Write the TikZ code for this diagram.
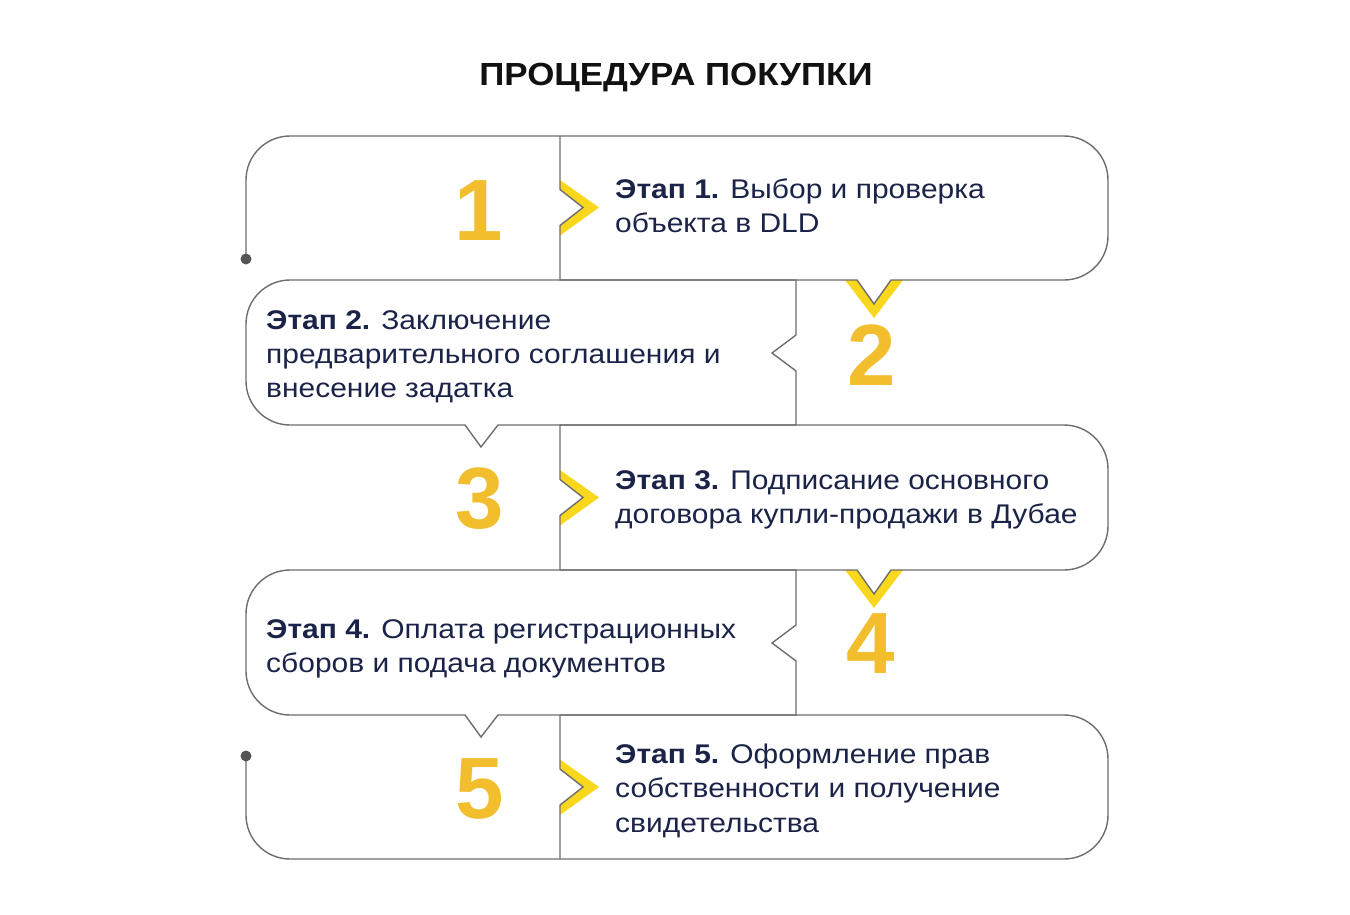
\documentclass[tikz,border=0pt]{standalone}
\usepackage{fontspec}
\setmainfont[FakeStretch=1.11]{Liberation Sans}
\newfontfamily\titlefont[FakeStretch=1.09]{Liberation Sans}
\newfontfamily\numfont{Liberation Sans}
\definecolor{lineg}{HTML}{6E6E6E}
\definecolor{dotc}{HTML}{555555}
\definecolor{navy}{HTML}{1B2448}
\definecolor{numy}{HTML}{F2BE2E}
\definecolor{chevy}{HTML}{F9D71C}
\definecolor{titlec}{HTML}{111111}
\tikzset{
  outline/.style={draw=lineg, line width=1.4pt, line join=miter},
  stagetxt/.style={anchor=base west, inner sep=0pt, text=navy, font=\fontsize{27}{34}\selectfont},
  bignum/.style={anchor=base, inner sep=0pt, text=numy, font=\numfont\fontsize{87}{87}\selectfont\bfseries},
  chev/.style={fill=chevy, draw=none},
  enddot/.style={fill=dotc}
}
\begin{document}
\begin{tikzpicture}[x=1pt,y=-1pt]
\useasboundingbox (0,0) rectangle (1350,915);
\fill[white] (0,0) rectangle (1350,915);

% title
\node[anchor=base, inner sep=0pt, text=titlec, font=\titlefont\fontsize{32}{34}\selectfont\bfseries] (title) at (676,86) {ПРОЦЕДУРА ПОКУПКИ};

% yellow chevrons (left edge, pointing right)
\foreach \yc in {207.5,497.5,787} {
  \fill[chev] (560,\yc-27.5) -- (599,\yc) -- (560,\yc+28) -- (560,\yc+18) -- (583,\yc) -- (560,\yc-18) -- cycle;
}
% yellow chevrons (bottom edge, pointing down)
\foreach \yb in {280,570} {
  \fill[chev] (845,\yb) -- (874,\yb+38) -- (903,\yb) -- (891,\yb) -- (874,\yb+24) -- (857,\yb) -- cycle;
}

% row 1: outline from the start dot and bubble 1
\draw[outline] (246,259) -- (246,180) .. controls (246,155.7) and (265.7,136) .. (290,136)
  -- (1064,136) .. controls (1088.3,136) and (1108,155.7) .. (1108,180)
  -- (1108,236) .. controls (1108,260.3) and (1088.3,280) .. (1064,280)
  -- (891,280) -- (874,304) -- (857,280) -- (560,280)
  -- (560,225.5) -- (583,207.5) -- (560,189.5) -- (560,136);

% row 2 bubble
\draw[outline] (796,280) -- (290,280) .. controls (265.7,280) and (246,299.7) .. (246,324)
  -- (246,381) .. controls (246,405.3) and (265.7,425) .. (290,425)
  -- (465,425) -- (481,447) -- (498,425) -- (796,425)
  -- (796,371) -- (772,353) -- (796,335) -- cycle;

% row 3 bubble
\draw[outline] (560,425) -- (1064,425) .. controls (1088.3,425) and (1108,444.7) .. (1108,469)
  -- (1108,526) .. controls (1108,550.3) and (1088.3,570) .. (1064,570)
  -- (891,570) -- (874,594) -- (857,570) -- (560,570)
  -- (560,515.5) -- (583,497.5) -- (560,479.5) -- cycle;

% row 4 bubble
\draw[outline] (796,570) -- (290,570) .. controls (265.7,570) and (246,589.7) .. (246,614)
  -- (246,671) .. controls (246,695.3) and (265.7,715) .. (290,715)
  -- (465,715) -- (481,737) -- (498,715) -- (796,715)
  -- (796,661) -- (772,643) -- (796,625) -- cycle;

% row 5 bubble and outline to the end dot
\draw[outline] (560,715) -- (1064,715) .. controls (1088.3,715) and (1108,734.7) .. (1108,759)
  -- (1108,815) .. controls (1108,839.3) and (1088.3,859) .. (1064,859)
  -- (290,859) .. controls (265.7,859) and (246,839.3) .. (246,815) -- (246,756);
\draw[outline] (560,715) -- (560,769) -- (583,787) -- (560,805) -- (560,859);

% end dots
\fill[enddot] (246,259) circle[radius=5.5pt];
\fill[enddot] (246,756) circle[radius=5.5pt];

% numbers
\node[bignum] (n1) at (479,240) {1};
\node[bignum] (n2) at (872,385) {2};
\node[bignum] (n3) at (480,528) {3};
\node[bignum] (n4) at (871,673) {4};
\node[bignum] (n5) at (480,818) {5};

% texts
\node[stagetxt] (t1a) at (615,198) {\textbf{Этап 1.} Выбор и проверка};
\node[stagetxt] (t1b) at (615,232) {объекта в DLD};

\node[stagetxt] (t2a) at (266,329) {\textbf{Этап 2.} Заключение};
\node[stagetxt] (t2b) at (266,363) {предварительного соглашения и};
\node[stagetxt] (t2c) at (266,397) {внесение задатка};

\node[stagetxt] (t3a) at (615,489) {\textbf{Этап 3.} Подписание основного};
\node[stagetxt] (t3b) at (615,523) {договора купли-продажи в Дубае};

\node[stagetxt] (t4a) at (266,638) {\textbf{Этап 4.} Оплата регистрационных};
\node[stagetxt] (t4b) at (266,672) {сборов и подача документов};

\node[stagetxt] (t5a) at (615,763) {\textbf{Этап 5.} Оформление прав};
\node[stagetxt] (t5b) at (615,797) {собственности и получение};
\node[stagetxt] (t5c) at (615,832) {свидетельства};
\end{tikzpicture}
\end{document}
